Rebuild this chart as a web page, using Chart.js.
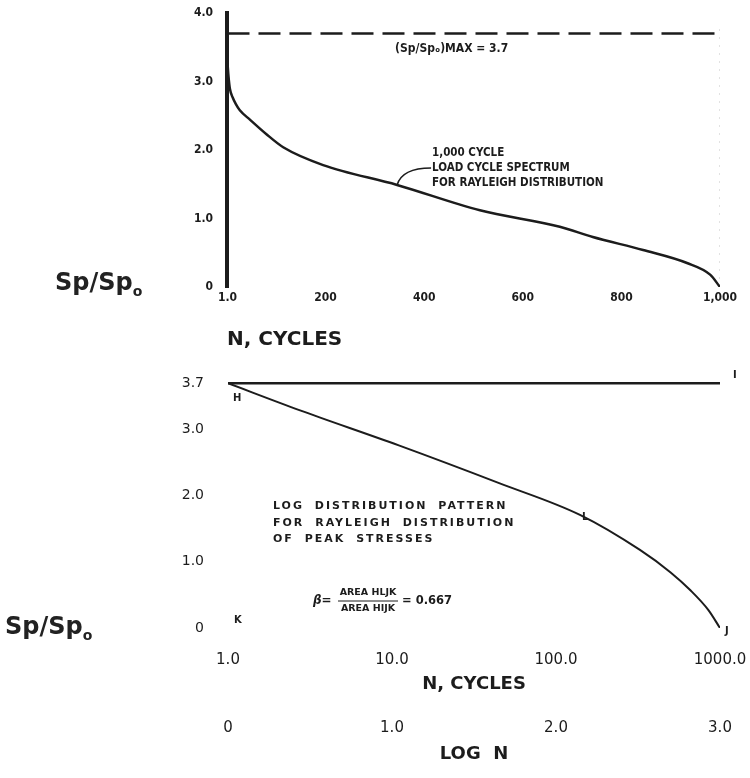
<!DOCTYPE html>
<html>
<head>
<meta charset="utf-8">
<script src="https://cdn.jsdelivr.net/npm/chart.js@4.4.0/dist/chart.umd.min.js"></script>
<style>
  html, body { margin: 0; padding: 0; background: #fff; }
  #wrap { position: relative; width: 750px; height: 778px; }
  #topChart { position: absolute; left: 0; top: 0; }
  #bottomChart { position: absolute; left: 0; top: 360px; }
  .ylab { position: absolute; font-family: 'DejaVu Sans', sans-serif; font-weight: bold; font-size: 24px; color: #222; }
  .ylab sub { font-size: 14px; }
</style>
</head>
<body>
<div id="wrap">
  <canvas id="topChart" width="750" height="360"></canvas>
  <canvas id="bottomChart" width="750" height="418"></canvas>
  <div class="ylab" style="left:55px; top:268px;">Sp/Sp<sub>o</sub></div>
  <div class="ylab" style="left:5px; top:612px;">Sp/Sp<sub>o</sub></div>
</div>
<script>
// top panel: load cycle spectrum, linear N
const cyclesN = [1, 3, 6, 12, 18, 26, 47, 80, 114, 195, 345, 513, 675, 742, 844, 933, 980, 1000];
const spectrumRatio = [3.27, 3.08, 2.89, 2.76, 2.67, 2.58, 2.44, 2.23, 2.04, 1.78, 1.49, 1.12, 0.88, 0.73, 0.54, 0.35, 0.18, 0];
const maxRatio = 3.7;
const topXTicks = [1, 200, 400, 600, 800, 1000];
const topXLabels = ['1.0', '200', '400', '600', '800', '1,000'];
const topYTicks = [0, 1, 2, 3, 4];
const topYLabels = ['0', '1.0', '2.0', '3.0', '4.0'];

// bottom panel: log distribution pattern
const logCyclesN = [1, 2.75, 11, 45, 140, 325, 500, 660, 850, 1000];
const logPatternRatio = [3.70, 3.29, 2.76, 2.19, 1.71, 1.18, 0.84, 0.57, 0.27, 0];
const bottomXTicks = [1, 10, 100, 1000];
const bottomXLabels = ['1.0', '10.0', '100.0', '1000.0'];
const logNTicks = [0, 1, 2, 3];
const logNLabels = ['0', '1.0', '2.0', '3.0'];
const bottomYTicks = [0, 1, 2, 3, 3.7];
const bottomYLabels = ['0', '1.0', '2.0', '3.0', '3.7'];

const ink = '#1c1c1c';
const narrow = '"Liberation Sans Narrow", "DejaVu Sans Condensed", "Liberation Sans", sans-serif';
const round = '"DejaVu Sans", "Open Sans", sans-serif';

function pts(xs, ys) {
    return xs.map((x, i) => ({ x: x, y: ys[i] }));
}

// big tick paddings would otherwise push the plot area in
function noEdgePad(s) {
    s.paddingTop = 0;
    s.paddingBottom = 0;
    s.paddingLeft = 0;
    s.paddingRight = 0;
}

const topNotes = {
    id: 'topNotes',
    afterDraw(chart) {
        const ctx = chart.ctx;
        const xs = chart.scales.x, ys = chart.scales.y;
        ctx.save();
        ctx.fillStyle = ink;
        ctx.strokeStyle = ink;
        ctx.textBaseline = 'middle';
        ctx.font = 'bold 12px ' + narrow;
        ctx.fillText('(Sp/Spₒ)MAX = 3.7', 395, 49);
        ctx.font = 'bold 11.5px ' + narrow;
        ctx.fillText('1,000 CYCLE', 432, 153);
        ctx.fillText('LOAD CYCLE SPECTRUM', 432, 168);
        ctx.fillText('FOR RAYLEIGH DISTRIBUTION', 432, 183);
        // leader from the curve to the note
        const px = xs.getPixelForValue(cyclesN[10]), py = ys.getPixelForValue(spectrumRatio[10]);
        ctx.lineWidth = 1.5;
        ctx.beginPath();
        ctx.moveTo(px, py);
        ctx.quadraticCurveTo(px + 5, py - 17, px + 34, py - 17);
        ctx.stroke();
        ctx.restore();
    }
};

const bottomNotes = {
    id: 'bottomNotes',
    afterDraw(chart) {
        const ctx = chart.ctx;
        const xs = chart.scales.x, ys = chart.scales.y;
        const last = logCyclesN.length - 1;
        ctx.save();
        ctx.fillStyle = ink;
        ctx.strokeStyle = ink;
        ctx.textBaseline = 'middle';
        ctx.font = 'bold 10px ' + round;
        ctx.fillText('H', xs.getPixelForValue(logCyclesN[0]) + 5, ys.getPixelForValue(logPatternRatio[0]) + 15);
        ctx.fillText('I', xs.getPixelForValue(1000) + 13, ys.getPixelForValue(maxRatio) - 8);
        ctx.fillText('K', xs.getPixelForValue(1) + 6, ys.getPixelForValue(0) - 8);
        ctx.fillText('L', xs.getPixelForValue(logCyclesN[4]) + 2, ys.getPixelForValue(logPatternRatio[4]) + 3);
        ctx.fillText('J', xs.getPixelForValue(logCyclesN[last]) + 5, ys.getPixelForValue(0) + 3);

        ctx.letterSpacing = '2px';
        ctx.wordSpacing = '5px';
        ctx.font = 'bold 11px ' + round;
        ctx.fillText('LOG DISTRIBUTION PATTERN', 273, 146);
        ctx.fillText('FOR RAYLEIGH DISTRIBUTION', 273, 163);
        ctx.fillText('OF PEAK STRESSES', 273, 179);

        ctx.letterSpacing = '0px';
        ctx.wordSpacing = '0px';
        ctx.font = 'bold 9.5px ' + round;
        ctx.textAlign = 'center';
        ctx.fillText('AREA HLJK', 368, 233);
        ctx.fillText('AREA HIJK', 368, 249);
        ctx.lineWidth = 1;
        ctx.beginPath();
        ctx.moveTo(338, 241);
        ctx.lineTo(398, 241);
        ctx.stroke();
        ctx.textAlign = 'left';
        ctx.font = 'italic bold 12px ' + round;
        ctx.fillText('β=', 313, 241);
        ctx.font = 'bold 11.5px ' + round;
        ctx.fillText('= 0.667', 402, 241);
        ctx.restore();
    }
};

new Chart(document.getElementById('topChart').getContext('2d'), {
    type: 'line',
    data: {
        datasets: [{
            data: pts(cyclesN, spectrumRatio),
            borderColor: ink,
            borderWidth: 2.5,
            pointRadius: 0,
            cubicInterpolationMode: 'monotone'
        }, {
            data: pts([1, 1000], [maxRatio, maxRatio]),
            borderColor: ink,
            borderWidth: 2.5,
            borderDash: [22, 9],
            pointRadius: 0
        }, {
            data: pts([1000, 1000], [0, 3.8]),
            borderColor: '#c4c4c4',
            borderWidth: 1,
            borderDash: [2, 6],
            pointRadius: 0
        }]
    },
    options: {
        responsive: false,
        animation: false,
        layout: { padding: { top: 13, right: 30, bottom: 8, left: 0 } },
        plugins: { legend: { display: false }, tooltip: { enabled: false } },
        scales: {
            x: {
                type: 'linear',
                min: 0,
                max: 1000,
                grid: { display: false, drawTicks: false },
                border: { display: false },
                afterBuildTicks: s => { s.ticks = topXTicks.map(v => ({ value: v })); },
                afterFit: s => { s.height = 65; noEdgePad(s); },
                ticks: {
                    padding: 4,
                    maxRotation: 0,
                    autoSkip: false,
                    color: ink,
                    font: { family: narrow, weight: 'bold', size: 12 },
                    callback: (v, i) => topXLabels[i]
                },
                title: {
                    display: true,
                    text: 'N, CYCLES',
                    align: 'start',
                    color: ink,
                    font: { family: round, weight: 'bold', size: 20 },
                    padding: { top: 0, bottom: 0 }
                }
            },
            y: {
                min: 0,
                max: 4,
                grid: { display: false, drawTicks: false },
                border: { display: true, color: ink, width: 4 },
                afterBuildTicks: s => { s.ticks = topYTicks.map(v => ({ value: v })); },
                afterFit: s => { s.width = 227; noEdgePad(s); },
                ticks: {
                    padding: 14,
                    color: ink,
                    font: { family: narrow, weight: 'bold', size: 12 },
                    callback: (v, i) => topYLabels[i]
                }
            }
        }
    },
    plugins: [topNotes]
});

new Chart(document.getElementById('bottomChart').getContext('2d'), {
    type: 'line',
    data: {
        datasets: [{
            data: pts(logCyclesN, logPatternRatio),
            borderColor: ink,
            borderWidth: 2,
            pointRadius: 0,
            cubicInterpolationMode: 'monotone'
        }, {
            data: pts([1, 1000], [maxRatio, maxRatio]),
            borderColor: ink,
            borderWidth: 2.5,
            pointRadius: 0
        }]
    },
    options: {
        responsive: false,
        animation: false,
        layout: { padding: { top: 10, right: 30, bottom: 12, left: 0 } },
        plugins: { legend: { display: false }, tooltip: { enabled: false } },
        scales: {
            x: {
                type: 'logarithmic',
                min: 1,
                max: 1000,
                weight: 0,
                grid: { display: false, drawTicks: false },
                border: { display: false },
                afterBuildTicks: s => { s.ticks = bottomXTicks.map(v => ({ value: v })); },
                afterFit: s => { s.height = 68; noEdgePad(s); },
                ticks: {
                    padding: 23,
                    maxRotation: 0,
                    autoSkip: false,
                    color: ink,
                    font: { family: round, size: 15 },
                    callback: (v, i) => bottomXLabels[i]
                },
                title: {
                    display: true,
                    text: 'N, CYCLES',
                    color: ink,
                    font: { family: round, weight: 'bold', size: 18 },
                    padding: { top: 0, bottom: 1 }
                }
            },
            logN: {
                type: 'linear',
                position: 'bottom',
                min: 0,
                max: 3,
                weight: 1,
                grid: { display: false, drawTicks: false },
                border: { display: false },
                afterBuildTicks: s => { s.ticks = logNTicks.map(v => ({ value: v })); },
                afterFit: s => { s.height = 70; noEdgePad(s); },
                ticks: {
                    padding: 23,
                    maxRotation: 0,
                    autoSkip: false,
                    color: ink,
                    font: { family: round, size: 15 },
                    callback: (v, i) => logNLabels[i]
                },
                title: {
                    display: true,
                    text: 'LOG  N',
                    color: ink,
                    font: { family: round, weight: 'bold', size: 18 },
                    padding: { top: 0, bottom: 1 }
                }
            },
            y: {
                min: 0,
                max: 3.9,
                grid: { display: false, drawTicks: false },
                border: { display: false },
                afterBuildTicks: s => { s.ticks = bottomYTicks.map(v => ({ value: v })); },
                afterFit: s => { s.width = 228; noEdgePad(s); },
                ticks: {
                    padding: 24,
                    color: ink,
                    font: { family: round, size: 14 },
                    callback: (v, i) => bottomYLabels[i]
                }
            }
        }
    },
    plugins: [bottomNotes]
});
</script>
</body>
</html>
